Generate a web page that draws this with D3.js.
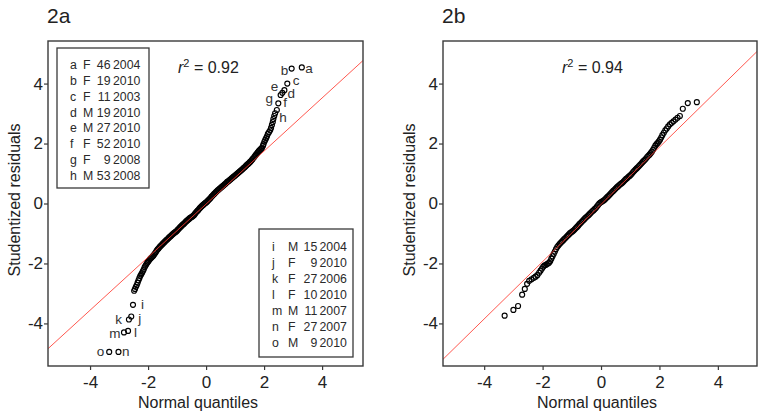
<!DOCTYPE html>
<html><head><meta charset="utf-8">
<script src="https://cdn.jsdelivr.net/npm/d3@7"></script>
<style>
body{margin:0;background:#fff;}
svg text{font-family:"Liberation Sans",Arial,sans-serif;}
</style></head><body>
<svg id="chart" width="758" height="415"></svg>
<script>
// ---------------- data ----------------
const panelTitles = ["2a", "2b"];
const rSquared = ["0.92", "0.94"];
const xTicks = [-4, -2, 0, 2, 4];
const yTicks = [-4, -2, 0, 2, 4];
const xTitle = "Normal quantiles";
const yTitle = "Studentized residuals";
const fitSlope = [0.885, 0.955];
const fitIntercept = [-0.02, -0.03];

// Panel 2a: normal quantiles and studentized residuals
const quantA = [-3.34,-3.02,-2.83,-2.69,-2.66,-2.58,-2.52,
-2.48,-2.45,-2.42,-2.39,-2.36,-2.33,-2.30,-2.27,-2.24,-2.21,-2.18,-2.15,-2.12,-2.09,-2.06,-2.03,-2.00,
-1.97,-1.94,-1.91,-1.88,-1.85,-1.82,-1.79,-1.76,-1.73,-1.70,-1.67,-1.64,-1.61,-1.58,-1.55,-1.52,-1.49,
-1.46,-1.43,-1.40,-1.37,-1.34,-1.31,-1.28,-1.25,-1.22,-1.19,-1.16,-1.13,-1.10,-1.07,-1.04,-1.01,-0.98,
-0.95,-0.92,-0.89,-0.86,-0.83,-0.80,-0.77,-0.74,-0.71,-0.68,-0.65,-0.62,-0.59,-0.56,-0.53,-0.50,-0.47,
-0.44,-0.41,-0.38,-0.35,-0.32,-0.29,-0.26,-0.23,-0.20,-0.17,-0.14,-0.11,-0.08,-0.05,-0.02,0.01,0.04,
0.07,0.10,0.13,0.16,0.19,0.22,0.25,0.28,0.31,0.34,0.37,0.40,0.43,0.46,0.49,0.52,0.55,0.58,0.61,0.64,
0.67,0.70,0.73,0.76,0.79,0.82,0.85,0.88,0.91,0.94,0.97,1.00,1.03,1.06,1.09,1.12,1.15,1.18,1.21,1.24,
1.27,1.30,1.33,1.36,1.39,1.42,1.45,1.48,1.51,1.54,1.57,1.60,1.63,1.66,1.69,1.72,1.75,1.78,1.81,1.84,
1.87,1.90,1.93,1.96,1.98,2.01,2.04,2.07,2.10,2.13,2.17,2.21,2.24,2.27,2.30,2.32,2.35,2.38,
2.44,2.49,2.57,2.63,2.70,2.80,2.95,3.30];
const residA = [-4.95,-4.95,-4.30,-4.25,-3.87,-3.77,-3.38,
-2.91,-2.85,-2.78,-2.72,-2.64,-2.56,-2.49,-2.42,-2.37,-2.32,-2.26,-2.20,-2.13,-2.08,-2.03,-1.98,-1.94,
-1.90,-1.86,-1.83,-1.80,-1.77,-1.74,-1.70,-1.66,-1.62,-1.57,-1.53,-1.50,-1.46,-1.43,-1.40,-1.37,-1.34,
-1.31,-1.28,-1.25,-1.22,-1.20,-1.17,-1.14,-1.11,-1.09,-1.06,-1.03,-1.01,-0.98,-0.96,-0.94,-0.92,-0.88,
-0.85,-0.82,-0.79,-0.76,-0.73,-0.70,-0.68,-0.65,-0.62,-0.59,-0.57,-0.54,-0.52,-0.49,-0.47,-0.45,-0.43,
-0.41,-0.38,-0.34,-0.30,-0.27,-0.24,-0.21,-0.17,-0.14,-0.11,-0.08,-0.05,-0.03,0.00,0.02,0.04,0.07,
0.10,0.13,0.16,0.19,0.23,0.26,0.29,0.32,0.35,0.38,0.41,0.44,0.46,0.49,0.51,0.54,0.56,0.59,0.61,0.64,
0.66,0.69,0.72,0.74,0.76,0.79,0.81,0.84,0.86,0.89,0.91,0.93,0.96,0.98,1.01,1.03,1.06,1.08,1.11,1.13,
1.16,1.19,1.21,1.24,1.27,1.30,1.32,1.35,1.38,1.41,1.44,1.48,1.51,1.55,1.59,1.63,1.67,1.70,1.74,1.77,
1.80,1.83,1.86,1.92,1.98,2.06,2.12,2.18,2.24,2.32,2.38,2.44,2.52,2.62,2.72,2.82,2.92,3.01,
3.12,3.34,3.62,3.69,3.78,4.00,4.50,4.54];
// labels of the lowest and highest points of panel 2a
const lowIdsA = ["o","n","m","l","k","j","i"];
const highIdsA = ["h","f","g","e","d","c","b","a"];

// Panel 2b
const quantB = [-3.30,-3.00,-2.84,-2.70,-2.61,-2.53,-2.46,-2.38,-2.30,-2.24,-2.18,-2.12,-2.07,-2.02,-1.98,-1.94,-1.90,
-1.86,-1.82,-1.78,-1.74,-1.70,-1.66,-1.62,-1.58,-1.54,-1.50,-1.46,-1.42,-1.38,-1.34,-1.30,-1.26,-1.22,-1.18,
-1.14,-1.10,-1.06,-1.02,-0.98,-0.94,-0.90,-0.86,-0.82,-0.78,-0.74,-0.70,-0.66,-0.62,-0.58,-0.54,-0.50,-0.46,
-0.42,-0.38,-0.34,-0.30,-0.26,-0.22,-0.18,-0.14,-0.10,-0.06,-0.02,0.02,0.06,0.10,0.14,0.18,0.22,0.26,0.30,
0.34,0.38,0.42,0.46,0.50,0.54,0.58,0.62,0.66,0.70,0.74,0.78,0.82,0.86,0.90,0.94,0.98,1.02,1.06,1.10,1.14,
1.18,1.22,1.26,1.30,1.34,1.38,1.42,1.46,1.50,1.54,1.58,1.62,1.66,1.70,1.74,1.78,1.82,1.86,1.90,
1.94,1.98,2.02,2.06,2.10,2.15,2.20,2.25,2.30,2.36,2.42,2.48,2.55,2.62,2.70,2.80,2.97,3.28];
const residB = [-3.74,-3.55,-3.42,-3.04,-2.85,-2.68,-2.58,-2.53,-2.48,-2.44,-2.39,-2.31,-2.24,-2.17,-2.11,-2.07,-2.05,
-2.03,-2.00,-1.98,-1.93,-1.84,-1.76,-1.68,-1.60,-1.52,-1.45,-1.40,-1.35,-1.31,-1.27,-1.23,-1.19,-1.15,-1.11,
-1.07,-1.03,-0.99,-0.96,-0.93,-0.90,-0.86,-0.82,-0.78,-0.74,-0.69,-0.65,-0.61,-0.57,-0.53,-0.49,-0.45,-0.42,
-0.38,-0.34,-0.30,-0.26,-0.23,-0.19,-0.15,-0.10,-0.05,0.00,0.03,0.06,0.08,0.11,0.14,0.18,0.22,0.26,0.30,
0.34,0.38,0.42,0.46,0.50,0.54,0.57,0.61,0.64,0.67,0.70,0.74,0.78,0.82,0.85,0.89,0.92,0.96,1.00,1.05,1.09,
1.13,1.17,1.21,1.25,1.29,1.33,1.38,1.42,1.46,1.50,1.55,1.59,1.63,1.68,1.73,1.79,1.86,1.93,1.98,
2.02,2.07,2.13,2.20,2.28,2.36,2.44,2.50,2.57,2.64,2.69,2.74,2.80,2.86,2.92,3.16,3.35,3.38];

// Outlier legends of panel 2a
const topLegendId = ["a","b","c","d","e","f","g","h"];
const topLegendSex = ["F","F","F","M","M","F","F","M"];
const topLegendAge = [46,19,11,19,27,52,9,53];
const topLegendYear = [2004,2010,2003,2010,2010,2010,2008,2008];
const botLegendId = ["i","j","k","l","m","n","o"];
const botLegendSex = ["M","F","F","F","M","F","M"];
const botLegendAge = [15,9,27,10,11,27,9];
const botLegendYear = [2004,2010,2006,2010,2007,2007,2010];

// ---------------- layout ----------------
const labelOffsets = { // dx, dy, anchor (px) for point labels
  a:[3.5,1,"start"], b:[-3.5,1.5,"end"], c:[5.5,-3,"start"], d:[3,3.5,"start"],
  e:[-4,-6,"end"], f:[5,-1,"start"], g:[-7.5,4,"end"], h:[2.5,8,"start"],
  i:[8,0,"start"], j:[7,2,"start"], k:[-7,0,"end"], l:[6,1.5,"start"],
  m:[-3.5,1.5,"end"], n:[3.5,0,"start"], o:[-5,0,"end"]
};
const panels = [
  {left:48, right:363, top:41, bottom:366, xd:[-5.45,5.41], yd:[-5.42,5.42],
   q:quantA, r:residA, xLabelX:198, rX:178},
  {left:443, right:757, top:41, bottom:366, xd:[-5.41,5.34], yd:[-5.42,5.42],
   q:quantB, r:residB, xLabelX:597, rX:562}
];

const svg = d3.select("#chart");
const ink = "#222";
const frame = "#3a3a3a";

panels.forEach((p, pi) => {
  const x = d3.scaleLinear().domain(p.xd).range([p.left, p.right]);
  const y = d3.scaleLinear().domain(p.yd).range([p.bottom, p.top]);
  const g = svg.append("g");

  // title
  g.append("text").attr("x", p.left - 1).attr("y", 23).attr("font-size", 21)
    .attr("fill", ink).text(panelTitles[pi]);

  // axes
  const xa = g.append("g").attr("transform", `translate(0,${p.bottom})`)
    .call(d3.axisBottom(x).tickValues(xTicks).tickSize(4).tickPadding(6).tickFormat(d3.format("d")));
  const ya = g.append("g").attr("transform", `translate(${p.left},0)`)
    .call(d3.axisLeft(y).tickValues(yTicks).tickSize(4).tickPadding(1).tickFormat(d3.format("d")));
  [xa, ya].forEach(a => {
    a.select(".domain").remove();
    a.selectAll(".tick line").attr("stroke", frame).attr("stroke-width", 1.2);
    a.selectAll(".tick text").attr("font-size", 17).attr("fill", ink)
      .attr("font-family", "Liberation Sans, Arial, sans-serif");
  });
  xa.selectAll(".tick text").text(d => String(d));
  ya.selectAll(".tick text").text(d => String(d));

  // axis titles
  g.append("text").attr("x", p.xLabelX).attr("y", 408).attr("text-anchor", "middle")
    .attr("font-size", 16).attr("fill", ink).text(xTitle);
  g.append("text").attr("transform", `translate(${p.left - 28},200) rotate(-90)`)
    .attr("text-anchor", "middle").attr("font-size", 16).attr("fill", ink).text(yTitle);

  // clip
  const cid = "clip" + pi;
  svg.append("clipPath").attr("id", cid).append("rect")
    .attr("x", p.left).attr("y", p.top).attr("width", p.right - p.left).attr("height", p.bottom - p.top);

  // points
  const pts = p.q.map((qv, i) => ({q: qv, r: p.r[i]}));
  g.append("g").attr("clip-path", `url(#${cid})`).selectAll("circle").data(pts).join("circle")
    .attr("cx", d => x(d.q)).attr("cy", d => y(d.r)).attr("r", 2.5)
    .attr("fill", "none").attr("stroke", "#000").attr("stroke-width", 1.15);

  // reference line
  const line = d3.line().x(d => x(d)).y(d => y(fitSlope[pi] * d + fitIntercept[pi]));
  g.append("path").attr("clip-path", `url(#${cid})`).datum(p.xd).attr("d", line)
    .attr("fill", "none").attr("stroke", "#ff3b30").attr("stroke-opacity", 0.85).attr("stroke-width", 1);

  // frame
  g.append("rect").attr("x", p.left).attr("y", p.top).attr("width", p.right - p.left)
    .attr("height", p.bottom - p.top).attr("fill", "none").attr("stroke", frame).attr("stroke-width", 1.4);

  // r^2
  const rt = g.append("text").attr("x", p.rX).attr("y", 73).attr("font-size", 16).attr("fill", ink);
  rt.append("tspan").attr("font-style", "italic").text("r");
  rt.append("tspan").attr("font-size", 11).attr("dy", -6).text("2");
  rt.append("tspan").attr("dy", 6).text(" = " + rSquared[pi]);

  // point labels (panel 2a only)
  if (pi === 0) {
    const labelled = [];
    lowIdsA.forEach((id, i) => labelled.push({id, q: p.q[i], r: p.r[i]}));
    highIdsA.forEach((id, i) => {
      const k = p.q.length - highIdsA.length + i;
      labelled.push({id, q: p.q[k], r: p.r[k]});
    });
    g.selectAll("text.pl").data(labelled).join("text").attr("class", "pl")
      .attr("x", d => x(d.q) + labelOffsets[d.id][0])
      .attr("y", d => y(d.r) + labelOffsets[d.id][1])
      .attr("text-anchor", d => labelOffsets[d.id][2])
      .attr("dominant-baseline", "central")
      .attr("font-size", 13.5).attr("fill", "#333").text(d => d.id);

    // legends
    const legends = [
      {box:[57,48,92,140], first:65, step:15.85, cols:[70,83,110.5,113],
       id:topLegendId, sex:topLegendSex, age:topLegendAge, year:topLegendYear},
      {box:[259,229,94,128], first:247, step:16, cols:[272,288,317.3,319.5],
       id:botLegendId, sex:botLegendSex, age:botLegendAge, year:botLegendYear}
    ];
    legends.forEach(L => {
      const lg = g.append("g");
      lg.append("rect").attr("x", L.box[0]).attr("y", L.box[1]).attr("width", L.box[2])
        .attr("height", L.box[3]).attr("fill", "#fff").attr("stroke", frame).attr("stroke-width", 1.3);
      L.id.forEach((id, i) => {
        const yy = L.first + i * L.step;
        const row = lg.append("g").attr("font-size", 12.3).attr("fill", "#2a2a2a");
        row.append("text").attr("x", L.cols[0]).attr("y", yy).attr("dominant-baseline", "central").text(id);
        row.append("text").attr("x", L.cols[1]).attr("y", yy).attr("dominant-baseline", "central").text(L.sex[i]);
        row.append("text").attr("x", L.cols[2]).attr("y", yy).attr("text-anchor", "end")
          .attr("dominant-baseline", "central").text(L.age[i]);
        row.append("text").attr("x", L.cols[3]).attr("y", yy).attr("dominant-baseline", "central").text(L.year[i]);
      });
    });
  }
});
</script>
</body></html>
